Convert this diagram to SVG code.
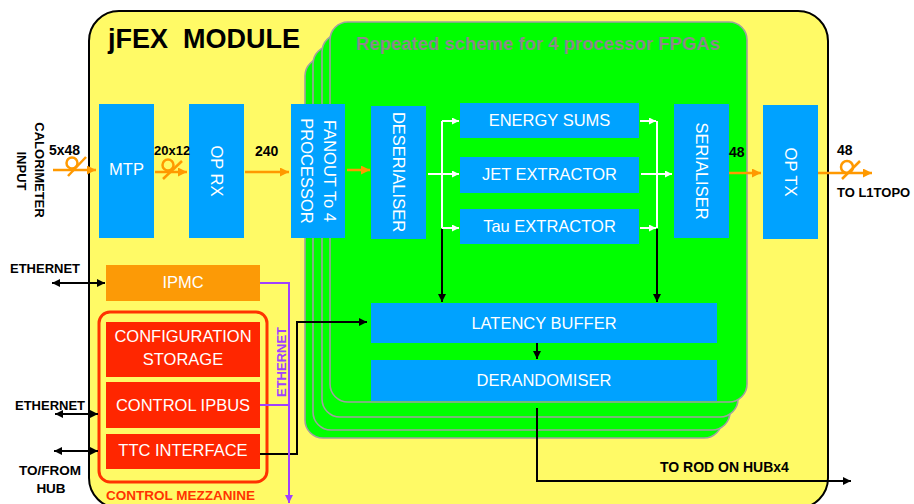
<svg xmlns="http://www.w3.org/2000/svg" width="914" height="504" viewBox="0 0 914 504">
<defs>
<style>
.lbl{font-family:"Liberation Sans",Arial,sans-serif;font-weight:bold;fill:#000}
.bx{font-family:"Liberation Sans",Arial,sans-serif;font-size:16.5px;fill:#fff;text-anchor:middle}
.blue{fill:#00a2ff}
.red{fill:#ff2600}
.board{fill:#00ff00;stroke:#a0a0a0;stroke-width:1.6}
.or{stroke:#ff9900;stroke-width:2.5;fill:none}
.wh{stroke:#fff;stroke-width:2;fill:none}
.bk{stroke:#000;stroke-width:2;fill:none}
.pu{stroke:#a040ff;stroke-width:2;fill:none}
</style>
<marker id="ao" viewBox="0 0 10 10" refX="10" refY="5" markerWidth="10" markerHeight="9" orient="auto" markerUnits="userSpaceOnUse"><path d="M0,0 L10,5 L0,10 z" fill="#ff9900"/></marker>
<marker id="aw" viewBox="0 0 10 10" refX="10" refY="5" markerWidth="8" markerHeight="7" orient="auto" markerUnits="userSpaceOnUse"><path d="M0,0 L10,5 L0,10 z" fill="#fff"/></marker>
<marker id="ab" viewBox="0 0 10 10" refX="10" refY="5" markerWidth="9" markerHeight="8" orient="auto-start-reverse" markerUnits="userSpaceOnUse"><path d="M0,0 L10,5 L0,10 z" fill="#000"/></marker>
<marker id="ap" viewBox="0 0 10 10" refX="10" refY="5" markerWidth="9" markerHeight="8" orient="auto" markerUnits="userSpaceOnUse"><path d="M0,0 L10,5 L0,10 z" fill="#a040ff"/></marker>
</defs>
<rect width="914" height="504" fill="#fff"/>
<g id="module">
<rect x="89" y="11" width="739" height="497" rx="30" fill="#fffa66" stroke="#000" stroke-width="2"/>
<text class="lbl" x="108" y="48" font-size="27" xml:space="preserve">jFEX  MODULE</text>
</g>
<g id="fpga-boards">
<rect class="board" x="305" y="58" width="417" height="380" rx="18"/>
<rect class="board" x="313" y="46" width="417" height="384" rx="18"/>
<rect class="board" x="322" y="34" width="416" height="383" rx="18"/>
<rect class="board" x="330" y="22" width="417" height="380" rx="18"/>
<text x="538" y="50" font-family="Liberation Sans, Arial, sans-serif" font-weight="bold" font-size="18.5" fill="#8a8a8a" text-anchor="middle">Repeated scheme for 4 processor FPGAs</text>
</g>
<g id="input-label">
<text class="lbl" font-size="13" text-anchor="middle" transform="translate(35,170) rotate(90)">CALORIMETER</text>
<text class="lbl" font-size="13" text-anchor="middle" transform="translate(17,171) rotate(90)">INPUT</text>
</g>
<g id="mtp"><rect class="blue" x="99" y="104" width="55" height="134"/><text class="bx" x="126.5" y="175">MTP</text></g>
<g id="oprx"><rect class="blue" x="189" y="104" width="55" height="134"/><text class="bx" transform="translate(211,171) rotate(90)">OP RX</text></g>
<g id="fanout"><rect class="blue" x="291" y="104" width="54" height="134"/>
<text class="bx" transform="translate(324,171) rotate(90)">FANOUT To 4</text>
<text class="bx" transform="translate(301,171) rotate(90)">PROCESSOR</text></g>
<g id="deserialiser"><rect class="blue" x="371" y="106" width="55" height="133"/><text class="bx" transform="translate(393,172) rotate(90)">DESERIALISER</text></g>
<g id="energy-sums"><rect class="blue" x="460" y="103" width="179" height="35"/><text class="bx" x="549.5" y="126">ENERGY SUMS</text></g>
<g id="jet-extractor"><rect class="blue" x="460" y="157" width="179" height="36"/><text class="bx" x="549.5" y="180">JET EXTRACTOR</text></g>
<g id="tau-extractor"><rect class="blue" x="460" y="209" width="179" height="35"/><text class="bx" x="549.5" y="232">Tau EXTRACTOR</text></g>
<g id="serialiser"><rect class="blue" x="674" y="104" width="55" height="134"/><text class="bx" transform="translate(696,171) rotate(90)">SERIALISER</text></g>
<g id="optx"><rect class="blue" x="763" y="105" width="55" height="134"/><text class="bx" transform="translate(785,172) rotate(90)">OP TX</text></g>
<g id="latency-buffer"><rect class="blue" x="371" y="303" width="346" height="40"/><text class="bx" x="544" y="329">LATENCY BUFFER</text></g>
<g id="derandomiser"><rect class="blue" x="371" y="360" width="346" height="41"/><text class="bx" x="544" y="386">DERANDOMISER</text></g>
<g id="ipmc"><rect x="106" y="265" width="154" height="36" fill="#fc9a06"/><text class="bx" x="183" y="288">IPMC</text></g>
<g id="control-mezzanine">
<rect x="99" y="312" width="168" height="170" rx="11" fill="#fffa66" stroke="#ff3300" stroke-width="3"/>
<text x="106" y="500" font-family="Liberation Sans, Arial, sans-serif" font-weight="bold" font-size="13.5" fill="#ff3300">CONTROL MEZZANINE</text>
</g>
<g id="config-storage"><rect class="red" x="106" y="322" width="154" height="55"/><text class="bx" x="183" y="342">CONFIGURATION</text><text class="bx" x="183" y="365">STORAGE</text></g>
<g id="control-ipbus"><rect class="red" x="106" y="382" width="154" height="46"/><text class="bx" x="183" y="411">CONTROL IPBUS</text></g>
<g id="ttc-interface"><rect class="red" x="106" y="434" width="154" height="35"/><text class="bx" x="183" y="456">TTC INTERFACE</text></g>
<g id="connectors">
<path class="or" d="M53,170 H96" marker-end="url(#ao)"/>
<circle cx="72" cy="163" r="5.5" class="or" stroke-width="2"/>
<path class="or" d="M68,176 L86,157" stroke-width="2"/>
<path class="or" d="M155,172 H187" marker-end="url(#ao)"/>
<circle cx="168" cy="165" r="5.5" class="or" stroke-width="2"/>
<path class="or" d="M163,179 L182,161" stroke-width="2"/>
<path class="or" d="M245,172 H289" marker-end="url(#ao)"/>
<path class="or" d="M347,170 H370" marker-end="url(#ao)"/>
<path class="or" d="M729,173 H761" marker-end="url(#ao)"/>
<path class="or" d="M818,173 H872" marker-end="url(#ao)"/>
<circle cx="847" cy="167" r="6" class="or" stroke-width="2"/>
<path class="or" d="M842,179 L860,161" stroke-width="2"/>
<path class="wh" d="M428,174 H442 M442,121 V228"/>
<path class="wh" d="M442,121 H459" marker-end="url(#aw)"/>
<path class="wh" d="M442,174 H459" marker-end="url(#aw)"/>
<path class="wh" d="M442,228 H459" marker-end="url(#aw)"/>
<path class="wh" d="M640,121 H656" marker-end="url(#aw)"/>
<path class="wh" d="M640,228 H656" marker-end="url(#aw)"/>
<path class="wh" d="M657,121 V228"/>
<path class="wh" d="M641,174 H672" marker-end="url(#aw)"/>
<path class="bk" d="M442,229 V302" marker-end="url(#ab)"/>
<path class="bk" d="M657,229 V302" marker-end="url(#ab)"/>
<path class="bk" d="M537,343 V359" marker-end="url(#ab)"/>
<path class="bk" d="M537,408 V481 H851" marker-end="url(#ab)"/>
<path class="bk" d="M260,454 H297 V322 H367" marker-end="url(#ab)"/>
<path class="pu" d="M260,283 H289 V503" marker-end="url(#ap)"/>
<path class="pu" d="M260,405 H290"/>
<path class="bk" d="M52,283 H105" marker-start="url(#ab)" marker-end="url(#ab)"/>
<path class="bk" d="M55,414 H98" marker-start="url(#ab)" marker-end="url(#ab)"/>
<path class="bk" d="M54,451 H98" marker-start="url(#ab)" marker-end="url(#ab)"/>
</g>
<g id="labels">
<text class="lbl" x="49" y="155" font-size="14">5x48</text>
<text class="lbl" x="154" y="155" font-size="13">20x12</text>
<text class="lbl" x="255" y="156" font-size="14">240</text>
<text class="lbl" x="729" y="157" font-size="14">48</text>
<text class="lbl" x="837" y="155" font-size="14">48</text>
<text class="lbl" x="837" y="197" font-size="13">TO L1TOPO</text>
<text class="lbl" x="660" y="472" font-size="14">TO ROD ON HUBx4</text>
<text class="lbl" x="10" y="273" font-size="13">ETHERNET</text>
<text class="lbl" x="15" y="410" font-size="13">ETHERNET</text>
<text class="lbl" x="50" y="475" font-size="13.5" text-anchor="middle">TO/FROM</text>
<text class="lbl" x="51" y="493" font-size="13.5" text-anchor="middle">HUB</text>
<text x="0" y="0" font-family="Liberation Sans, Arial, sans-serif" font-weight="bold" font-size="13" fill="#a040ff" text-anchor="middle" transform="translate(286,362) rotate(-90)">ETHERNET</text>
</g>
</svg>
